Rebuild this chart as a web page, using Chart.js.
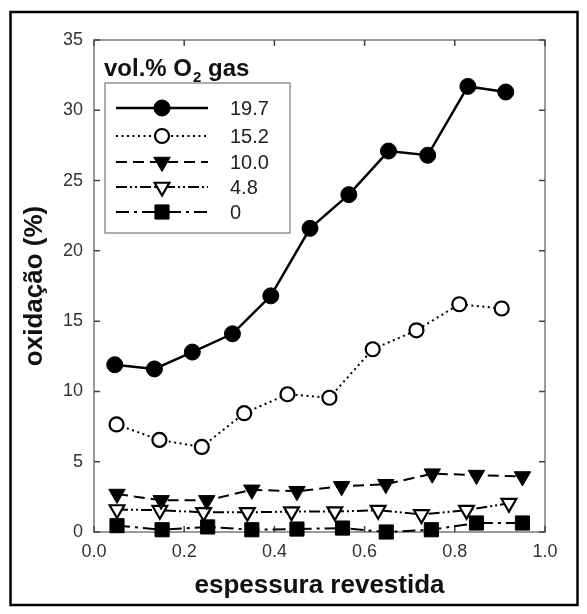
<!DOCTYPE html>
<html><head><meta charset="utf-8">
<script src="https://cdn.jsdelivr.net/npm/chart.js@4"></script>
<style>html,body{margin:0;padding:0;background:#fff}#wrap{width:587px;height:614px;position:relative}</style>
</head><body><div id="wrap"><canvas id="c" width="587" height="614"></canvas></div>
<script>
// ---- data ----
const seriesLabels = ['19.7', '15.2', '10.0', '4.8', '0'];
const x197 = [0.046, 0.134, 0.218, 0.307, 0.392, 0.479, 0.565, 0.653, 0.740, 0.829, 0.913];
const y197 = [11.9, 11.6, 12.8, 14.1, 16.8, 21.6, 24.0, 27.1, 26.8, 31.7, 31.3];
const x152 = [0.050, 0.145, 0.239, 0.333, 0.429, 0.522, 0.618, 0.715, 0.810, 0.904];
const y152 = [7.65, 6.55, 6.05, 8.45, 9.8, 9.55, 13.0, 14.35, 16.2, 15.9];
const x100 = [0.051, 0.149, 0.250, 0.350, 0.450, 0.549, 0.647, 0.750, 0.848, 0.950];
const y100 = [2.7, 2.25, 2.25, 3.0, 2.9, 3.25, 3.4, 4.15, 4.05, 3.95];
const x48 = [0.051, 0.146, 0.243, 0.340, 0.438, 0.534, 0.630, 0.726, 0.826, 0.920];
const y48 = [1.6, 1.55, 1.4, 1.4, 1.45, 1.45, 1.55, 1.25, 1.55, 2.05];
const x0 = [0.051, 0.151, 0.252, 0.350, 0.450, 0.551, 0.648, 0.748, 0.848, 0.950];
const y0 = [0.45, 0.16, 0.36, 0.16, 0.21, 0.28, 0.0, 0.16, 0.64, 0.64];
const xTickValues = [0, 0.2, 0.4, 0.6, 0.8, 1.0];
const yTickValues = [0, 5, 10, 15, 20, 25, 30, 35];
const xTitle = 'espessura revestida';
const yTitle = 'oxidação (%)';
const legendTitle = ['vol.% O', '2', ' gas'];

function pts(xs, ys) { return xs.map((x, i) => ({ x: x, y: ys[i] })); }

const styles = [
  { dash: [], lw: 2.5, ps: 'circle', r: 8, rot: 0, fill: '#000', bw: 1 },
  { dash: [2, 3.5], lw: 2, ps: 'circle', r: 7, rot: 0, fill: '#fff', bw: 2.2 },
  { dash: [11, 6], lw: 2, ps: 'triangle', r: 9.5, rot: 180, fill: '#000', bw: 1 },
  { dash: [11, 3, 2, 3, 2, 3], lw: 2, ps: 'triangle', r: 8.5, rot: 180, fill: '#fff', bw: 2.2 },
  { dash: [13, 5, 3, 5], lw: 2, ps: 'rect', r: 10, rot: 0, fill: '#000', bw: 1 }
];
const xs = [x197, x152, x100, x48, x0];
const ys = [y197, y152, y100, y48, y0];

const datasets = seriesLabels.map((lab, i) => ({
  label: lab,
  data: pts(xs[i], ys[i]),
  borderColor: '#000',
  borderWidth: styles[i].lw,
  borderDash: styles[i].dash,
  pointStyle: styles[i].ps,
  pointRadius: styles[i].r,
  pointRotation: styles[i].rot,
  pointBackgroundColor: styles[i].fill,
  pointBorderColor: '#000',
  pointBorderWidth: styles[i].bw,
  tension: 0,
  clip: false,
  fill: false
}));

const FONT = '"Liberation Sans", Arial, sans-serif';

const framePlugin = {
  id: 'framePlugin',
  beforeDatasetsDraw(chart) {
    const ctx = chart.ctx, a = chart.chartArea;
    const sx = chart.scales.x, sy = chart.scales.y;
    ctx.save();
    ctx.strokeStyle = '#7a7a7a';
    ctx.lineWidth = 1.5;
    ctx.strokeRect(a.left, a.top, a.right - a.left, a.bottom - a.top);
    ctx.strokeStyle = '#444';
    ctx.lineWidth = 1.5;
    ctx.beginPath();
    xTickValues.forEach(v => {
      const px = sx.getPixelForValue(v);
      ctx.moveTo(px, a.bottom); ctx.lineTo(px, a.bottom - 6);
      ctx.moveTo(px, a.top); ctx.lineTo(px, a.top + 6);
    });
    yTickValues.forEach(v => {
      const py = sy.getPixelForValue(v);
      ctx.moveTo(a.left, py); ctx.lineTo(a.left + 6, py);
      ctx.moveTo(a.right, py); ctx.lineTo(a.right - 6, py);
    });
    ctx.stroke();
    ctx.restore();
  },
  afterDraw(chart) {
    const ctx = chart.ctx;
    ctx.save();
    // outer frame
    ctx.strokeStyle = '#000';
    ctx.lineWidth = 2.5;
    ctx.strokeRect(10.5, 12, 567, 593);
    // legend box
    const bx = 105, by = 83, bw = 185, bh = 150;
    ctx.fillStyle = '#fff';
    ctx.fillRect(bx, by, bw, bh);
    ctx.strokeStyle = '#777';
    ctx.lineWidth = 1.2;
    ctx.strokeRect(bx, by, bw, bh);
    // legend title
    ctx.fillStyle = '#111';
    ctx.textBaseline = 'alphabetic';
    ctx.textAlign = 'left';
    ctx.font = 'bold 24px ' + FONT;
    let tx = 104;
    const tb = 76;
    ctx.fillText(legendTitle[0], tx, tb);
    tx += ctx.measureText(legendTitle[0]).width + 1;
    ctx.font = 'bold 15px ' + FONT;
    ctx.fillText(legendTitle[1], tx, tb + 6);
    tx += ctx.measureText(legendTitle[1]).width;
    ctx.font = 'bold 24px ' + FONT;
    ctx.fillText(legendTitle[2], tx, tb);
    // entries
    const rows = [108, 136, 162, 187, 212];
    chart.data.datasets.forEach((ds, i) => {
      const y = rows[i];
      ctx.strokeStyle = '#000';
      ctx.lineWidth = ds.borderWidth;
      ctx.setLineDash(ds.borderDash);
      ctx.beginPath();
      ctx.moveTo(116, y); ctx.lineTo(208, y);
      ctx.stroke();
      ctx.setLineDash([]);
      ctx.fillStyle = ds.pointBackgroundColor;
      ctx.strokeStyle = '#000';
      ctx.lineWidth = ds.pointBorderWidth;
      Chart.helpers.drawPoint(ctx, {
        pointStyle: ds.pointStyle, rotation: ds.pointRotation,
        radius: ds.pointRadius, borderWidth: ds.pointBorderWidth
      }, 162, y);
      ctx.fillStyle = '#222';
      ctx.font = '20px ' + FONT;
      ctx.textBaseline = 'middle';
      ctx.fillText(ds.label, 230, y + 1);
    });
    ctx.restore();
  }
};

new Chart(document.getElementById('c'), {
  type: 'line',
  data: { datasets: datasets },
  options: {
    responsive: false,
    animation: false,
    devicePixelRatio: 1,
    layout: { padding: { left: 0, right: 42, top: 40, bottom: 0 } },
    plugins: { legend: { display: false }, tooltip: { enabled: false } },
    scales: {
      x: {
        type: 'linear', min: 0, max: 1,
        afterBuildTicks: s => { s.ticks = xTickValues.map(v => ({ value: v })); },
        afterFit: s => { s.height = 82; },
        ticks: { callback: v => v.toFixed(1), color: '#333', padding: 9,
                 font: { family: FONT, size: 18 } },
        grid: { display: false, drawTicks: false },
        border: { display: false },
        title: { display: true, text: xTitle, color: '#111', padding: { top: 0, bottom: 13 },
                 font: { family: FONT, size: 26, weight: 'bold' } }
      },
      y: {
        type: 'linear', min: 0, max: 35,
        afterBuildTicks: s => { s.ticks = yTickValues.map(v => ({ value: v })); },
        afterFit: s => { s.width = 94; },
        ticks: { color: '#333', padding: 11,
                 font: { family: FONT, size: 18 } },
        grid: { display: false, drawTicks: false },
        border: { display: false },
        title: { display: true, text: yTitle, color: '#111', padding: { top: 19, bottom: 0 },
                 font: { family: FONT, size: 26, weight: 'bold' } }
      }
    }
  },
  plugins: [framePlugin]
});
</script></body></html>
